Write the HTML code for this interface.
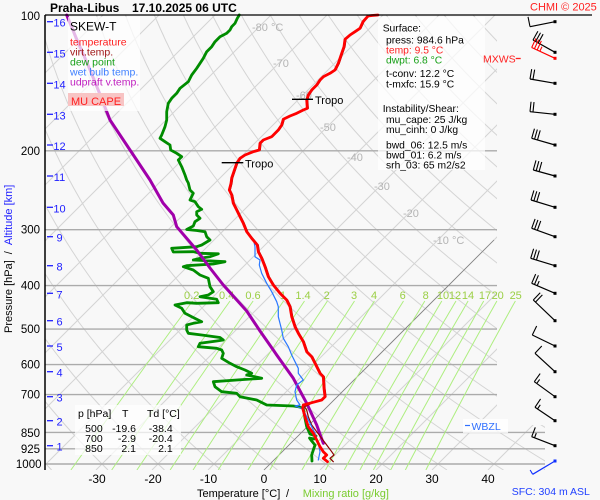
<!DOCTYPE html>
<html><head><meta charset="utf-8">
<style>
html,body{margin:0;padding:0;background:#f8f8f8;}
svg{display:block;font-family:"Liberation Sans",Arial,sans-serif;}
</style></head>
<body>
<svg id="s" width="600" height="500" viewBox="0 0 600 500" xmlns="http://www.w3.org/2000/svg">
<defs>
<clipPath id="cp"><polygon points="45,15 497,15 497,425 545,425 545,470 45,470"/></clipPath>
<clipPath id="cpm"><rect x="45" y="15" width="555" height="455"/></clipPath>
</defs>
<rect width="600" height="500" fill="#f8f8f8"/>
<g id="grid" clip-path="url(#cp)"></g>
<g stroke="#ababab" stroke-width="1.4">
<line x1="45" y1="150.8" x2="497" y2="150.8"/>
<line x1="45" y1="229.7" x2="497" y2="229.7"/>
<line x1="45" y1="285.6" x2="497" y2="285.6"/>
<line x1="45" y1="329.1" x2="497" y2="329.1"/>
<line x1="45" y1="364.6" x2="497" y2="364.6"/>
<line x1="45" y1="394.6" x2="497" y2="394.6"/>
<line x1="45" y1="432.4" x2="545" y2="432.4"/>
<line x1="45" y1="448.8" x2="545" y2="448.8"/>
<line x1="45" y1="464" x2="545" y2="464"/>
</g>
<line x1="264" y1="470" x2="494" y2="240" stroke="#808080" stroke-width="0.8"/>
<g id="mix" clip-path="url(#cpm)"></g>
<g font-size="11" fill="#9bcf45">
<text x="191.7" y="299" text-anchor="middle">0.2</text>
<text x="226.7" y="299" text-anchor="middle">0.4</text>
<text x="253" y="299" text-anchor="middle">0.6</text>
<text x="283" y="299" text-anchor="middle">1</text>
<text x="303" y="299" text-anchor="middle">1.4</text>
<text x="326.7" y="299" text-anchor="middle">2</text>
<text x="354" y="299" text-anchor="middle">3</text>
<text x="374" y="299" text-anchor="middle">4</text>
<text x="402.7" y="299" text-anchor="middle">6</text>
<text x="425.7" y="299" text-anchor="middle">8</text>
<text x="443" y="299" text-anchor="middle">10</text>
<text x="455" y="299" text-anchor="middle">12</text>
<text x="468" y="299" text-anchor="middle">14</text>
<text x="485" y="299" text-anchor="middle">17</text>
<text x="497.7" y="299" text-anchor="middle">20</text>
<text x="515.7" y="299" text-anchor="middle">25</text>
</g>
<g font-size="11" fill="#b4b4b4">
<text x="252" y="31">-80 °C</text>
<text x="273" y="67">-70</text>
<text x="296" y="99">-60</text>
<text x="320" y="131">-50</text>
<text x="347" y="161">-40</text>
<text x="374" y="190">-30</text>
<text x="403" y="217">-20</text>
<text x="433" y="244">-10 °C</text>
</g>
<g id="prof" fill="none" stroke-linejoin="round" stroke-linecap="round"></g>
<!-- boxes -->
<rect x="68" y="17" width="72" height="94" fill="#fff" opacity="0.72"/>
<rect x="378" y="17" width="107" height="153" fill="#fff" opacity="0.72"/>
<rect x="75" y="405" width="106" height="50" fill="#fff" opacity="0.72"/>
<rect x="463" y="419" width="45" height="14" fill="#fff" opacity="0.8"/>
<!-- legend -->
<text x="70" y="30.3" font-size="12" fill="#000">SKEW-T</text>
<g font-size="10.5">
<text x="70" y="45.7" fill="#ff2020">temperature</text>
<text x="70" y="55.7" fill="#a01818">virt.temp.</text>
<text x="70" y="65.4" fill="#18a018">dew point</text>
<text x="70" y="75.4" fill="#3f80ff">wet bulb temp.</text>
<text x="70" y="85.4" fill="#c020c0">udpraft v.temp.</text>
</g>
<rect x="68" y="93" width="56" height="13" fill="#f8c4c4"/>
<text x="96" y="105" font-size="11" fill="#ff2020" text-anchor="middle">MU CAPE</text>
<!-- surface box -->
<g font-size="10.3" fill="#000">
<text x="382.7" y="31.3">Surface:</text>
<text x="386" y="43.6">press: 984.6 hPa</text>
<text x="386" y="53.6" fill="#ff2020">temp: 9.5 °C</text>
<text x="386" y="63.6" fill="#18a018">dwpt: 6.8 °C</text>
<text x="386" y="77">t-conv: 12.2 °C</text>
<text x="386" y="87.6">t-mxfc: 15.9 °C</text>
<text x="382.7" y="112">Instability/Shear:</text>
<text x="386" y="123">mu_cape: 25 J/kg</text>
<text x="386" y="133">mu_cinh: 0 J/kg</text>
<text x="386" y="148.6">bwd_06: 12.5 m/s</text>
<text x="386" y="158.6">bwd_01: 6.2 m/s</text>
<text x="386" y="168.6">srh_03: 65 m2/s2</text>
</g>
<!-- table -->
<g font-size="10.5" fill="#000">
<text x="78" y="417">p [hPa]</text>
<text x="122" y="417">T</text>
<text x="147" y="417">Td [°C]</text>
<text x="102.7" y="432" text-anchor="end">500</text>
<text x="136" y="432" text-anchor="end">-19.6</text>
<text x="172.7" y="432" text-anchor="end">-38.4</text>
<text x="102.7" y="442" text-anchor="end">700</text>
<text x="136" y="442" text-anchor="end">-2.9</text>
<text x="172.7" y="442" text-anchor="end">-20.4</text>
<text x="102.7" y="452" text-anchor="end">850</text>
<text x="136" y="452" text-anchor="end">2.1</text>
<text x="172.7" y="452" text-anchor="end">2.1</text>
</g>
<!-- tropo -->
<g stroke="#000" stroke-width="1.3">
<line x1="292" y1="99.3" x2="313" y2="99.3"/>
<line x1="221.7" y1="162.7" x2="243.3" y2="162.7"/>
</g>
<text x="315" y="104" font-size="11" fill="#000">Tropo</text>
<text x="245" y="167.5" font-size="11" fill="#000">Tropo</text>
<!-- MXWS / WBZL -->
<text x="483" y="62.5" font-size="10.5" fill="#ff2020">MXWS</text>
<line x1="515.7" y1="58.5" x2="520.7" y2="58.5" stroke="#ff2020" stroke-width="1.3"/>
<line x1="465" y1="425.5" x2="470" y2="425.5" stroke="#3070ff" stroke-width="1.2"/>
<text x="471.5" y="430" font-size="10.5" fill="#3070ff">WBZL</text>
<!-- axes -->
<line x1="45" y1="15" x2="592" y2="15" stroke="#000" stroke-width="1.2"/>
<line x1="45" y1="15" x2="45" y2="470" stroke="#000" stroke-width="1.5"/>
<!-- title -->
<text x="50" y="12" font-size="12" font-weight="bold" fill="#000">Praha-Libus</text>
<text x="132" y="12" font-size="12" font-weight="bold" fill="#000">17.10.2025 06 UTC</text>
<text x="530" y="10.5" font-size="11" fill="#ff2020">CHMI © 2025</text>
<!-- pressure labels -->
<g font-size="11.5" fill="#000" text-anchor="end">
<text x="40" y="20">100</text>
<text x="40" y="154.8">200</text>
<text x="40" y="233.7">300</text>
<text x="40" y="289.6">400</text>
<text x="40" y="333.1">500</text>
<text x="40" y="368.6">600</text>
<text x="40" y="398.6">700</text>
<text x="40" y="436.8">850</text>
<text x="40" y="453">925</text>
<text x="41.5" y="468.2">1000</text>
</g>
<g id="alt" font-size="11" fill="#2020ff" text-anchor="middle"></g>
<!-- temperature labels -->
<g font-size="12" fill="#000" text-anchor="middle">
<text x="97" y="483">-30</text>
<text x="153" y="483">-20</text>
<text x="208.5" y="483">-10</text>
<text x="264" y="483">0</text>
<text x="320" y="483">10</text>
<text x="376" y="483">20</text>
<text x="432" y="483">30</text>
<text x="488" y="483">40</text>
</g>
<text x="197" y="497" font-size="11" fill="#000">Temperature [°C]</text>
<text x="286" y="497" font-size="11" fill="#000">/</text>
<text x="302.7" y="497" font-size="11" fill="#7acc30">Mixing ratio [g/kg]</text>
<text x="511.7" y="495" font-size="10.5" fill="#2040ff">SFC: 304 m ASL</text>
<text transform="translate(12,333) rotate(-90)" font-size="11" fill="#000"><tspan>Pressure [hPa]</tspan><tspan dx="6">/</tspan><tspan dx="6" fill="#2020ff">Altitude [km]</tspan></text>
<g id="barbs" stroke-linecap="butt"></g>
</svg>
<script>
(function(){
const NS='http://www.w3.org/2000/svg';
function Y(p){return 464-194.6*Math.log(1000/p);}
function P(y){return 1000*Math.exp((y-464)/194.6);}
function X(T,y){return 264+5.6*T+(470-y);}
function add(g,tag,a){const e=document.createElementNS(NS,tag);for(const k in a)e.setAttribute(k,a[k]);g.appendChild(e);return e;}
const grid=document.getElementById('grid');
let d='';
for(let T=-180;T<=60;T+=10){d+='M'+X(T,470).toFixed(1)+',470L'+X(T,15).toFixed(1)+',15';}
add(grid,'path',{d:d,stroke:'#d4d4d4','stroke-width':1,fill:'none'});
d='';
for(let th=223.15;th<=533.15;th+=10){
  let first=true;
  for(let y=470;y>=12;y-=3){const p=P(y);const T=th*Math.pow(p/1000,0.2857)-273.15;d+=(first?'M':'L')+X(T,y).toFixed(1)+','+y;first=false;}
}
add(grid,'path',{d:d,stroke:'#d4d4d4','stroke-width':1,fill:'none'});
const mix=document.getElementById('mix');
const ws=[0.2,0.4,0.6,1,1.4,2,3,4,6,8,10,12,14,17,20,25];
d='';
for(const w of ws){let first=true;
  const ys=[];for(let y=301;y<470;y+=4)ys.push(y);ys.push(470);
  for(const y of ys){const p=P(y);const e=w*p/(622+w);const l=Math.log(e/6.112);const T=243.5*l/(17.67-l);d+=(first?'M':'L')+X(T,y).toFixed(1)+','+y;first=false;}
}
add(mix,'path',{d:d,stroke:'#aeee80','stroke-width':1,fill:'none'});

const red=[[378,15],[372,15.5],[368,16],[363,21.7],[360,28.3],[355,31.7],[350,35],[345,39.3],[344,46.7],[341.7,53.3],[338.3,63.3],[335,70],[330,73.3],[323.3,76.7],[320,80],[316.7,85],[311.7,90],[308.3,95],[306.7,100],[307.3,108.3],[303.3,110],[296.7,113.3],[290,116],[283.3,119.3],[281.7,125],[278.3,130],[271.7,136.7],[263.3,140],[260,143.3],[259.3,150],[253.3,151.7],[245,155],[240,158.3],[236.7,163.3],[235,168.3],[233.3,173.3],[231.7,178],[231,183.3],[229.3,190],[231.7,195],[233.3,203.3],[236.7,210],[240,216.7],[243.3,223.3],[246.7,231.7],[251.7,238.3],[257.3,245],[258.3,251.7],[261.7,258.3],[265,266.7],[268.3,276.7],[273.3,285],[280,293.3],[286.7,300],[290,306.7],[291.7,316.7],[295,326.7],[298.3,333.3],[303.3,341.7],[306.7,351.7],[311.7,356.7],[315,363.3],[320,373.3],[323.3,376.7],[324,388.3],[325,396.7],[321.7,400],[311.7,402.7],[303.3,405],[302.7,408.3],[305,416.7],[308.3,426.7],[313.3,433.3],[316.7,440],[320,446.7],[323.3,451.7],[326.7,455],[323.3,458.3],[327.5,461.7]];
const green=[[239.3,15],[237.3,18.3],[235,23.3],[231.7,26.7],[230,30],[226.7,33.3],[220,36.7],[215,41.7],[211.7,46.7],[206.7,51.7],[203.3,58.3],[200,63.3],[196.7,68.3],[191.7,75],[188.3,81.7],[180,88.3],[176.7,93.3],[171.7,98.3],[168.3,103.3],[166.7,111.7],[166.7,120],[165,126.7],[161.7,135],[160,138.3],[165,141.7],[170,145],[170.7,150],[176.7,153.3],[181.7,156.7],[178.3,160],[181.7,166.7],[185,175],[186.7,180],[188.3,183],[190,190],[193.3,193.3],[190,200],[195,201.7],[198.3,206.7],[201.7,209.3],[196.7,211.7],[196.7,215],[200,218.3],[195,221.7],[193.3,226],[186.7,229.5],[196.7,230.5],[205,231.7],[206.7,236.7],[210,240],[201.7,245],[196.7,246.7],[171.7,248.3],[173.3,252],[193.3,251.7],[200,253.3],[218.3,253.8],[210,256.7],[200,258.3],[193.3,260],[225,261.7],[213.3,264],[186.7,265.7],[183.3,266.7],[193.3,270],[200,275],[208.3,278.3],[210,286.7],[213.3,291.7],[208.3,295],[200,296.7],[216.7,299.3],[218.3,302.7],[196.7,303.3],[186.7,302.7],[175,305],[181.7,308.3],[185,313.3],[191.7,316.7],[201.7,321.7],[193.3,323.3],[186.7,325],[186.7,330],[188.3,333.3],[201.7,335],[220,337.5],[223.3,340],[216.7,341],[200,343.3],[198.3,346.7],[216.7,348.3],[221.7,350],[223.3,353.3],[221.7,358.3],[230,363.3],[236.7,366.7],[245,370],[251.7,373.3],[246.7,375],[261.7,378.3],[236.7,380],[213.3,381.7],[215,386.7],[221.7,391.7],[236.7,393.3],[240,396.7],[256.7,400],[266.7,405],[293.3,406],[298.3,406.7],[303.3,408.3],[305,418.3],[306.7,426.7],[310,434],[316,436],[314,439],[309.5,438],[311.7,441],[315,445],[313.3,450],[311.7,455],[312,461]];
const blue=red.filter(p=>p[1]<212).map(p=>[p[0]-0.5,p[1]]).concat([[240,215],[243,223],[246,231.7],[250,236.7],[254,242],[255,246.7],[255,256.7],[260,260],[259.3,265],[261.7,273.3],[266.7,283.3],[271.7,291.7],[276.7,301.7],[278.3,306.7],[278.3,316.7],[281.7,330],[283.3,338.3],[288.3,346.7],[291.7,355],[295,361.7],[298.3,368.3],[298.3,373.3],[303.3,380],[296.7,385],[295,391.7],[296.7,400],[300,405],[295,406],[303,409],[305,413.3],[310,423.3],[315,433.3],[318.3,443.3],[320,451.7],[318.3,460]]);
const virt=red.filter(p=>p[1]<404).map(p=>[p[0]+1,p[1]]).concat([[304.5,406.7],[306.7,410],[308.3,416.7],[311.7,425],[316.7,431.7],[321.7,438.3],[326.7,445],[331.7,451.7],[334,455],[330,458.3],[333.3,461.7]]);
const purple=[[66.7,15],[77,40],[88,65],[99,92],[110,120],[130,150],[150,180],[163,203],[173.3,215],[176.7,226.7],[196.7,250],[210,268],[223.3,285],[246.7,311],[260,331],[273.3,350],[276.7,355],[293.3,378.3],[306.7,403.3],[316.7,425],[323.3,443.3]];
const prof=document.getElementById('prof');
function pl(pts,col,w){add(prof,'polyline',{points:pts.map(p=>p[0]+','+p[1]).join(' '),stroke:col,'stroke-width':w});}
pl(green,'#008c00',2.8);
pl(purple,'#a000aa',3);
pl(virt,'#8b0000',1.2);
pl(blue,'#2a78ff',1.2);
pl(red,'#ff0000',2.8);

const alt=document.getElementById('alt');
const ys=[21.7,52.3,83.3,114.3,145,176,207.3,236.7,265.7,293.3,320.7,346,371.7,396.7,420.7,445.7];
ys.forEach((y,i)=>{const km=16-i;
  add(alt,'line',{x1:47,y1:y,x2:53,y2:y,stroke:'#2020ff','stroke-width':1.3});
  const t=add(alt,'text',{x:59.5,y:(y+5).toFixed(1)});t.textContent=String(km);
});

const bg=document.getElementById('barbs');
function barb(x0,y0,x1,y1,full,half,col){
  add(bg,'line',{x1:x0,y1:y0,x2:x1,y2:y1,stroke:col,'stroke-width':1.2});
  add(bg,'rect',{x:x0-1.5,y:y0-1.5,width:3,height:3,fill:col});
  const L=Math.hypot(x0-x1,y0-y1);const ux=(x1-x0)/L,uy=(y1-y0)/L;const px=-uy,py=ux;
  let s=0;
  for(let i=0;i<full;i++){const bx=x1-ux*s,by=y1-uy*s;add(bg,'line',{x1:bx,y1:by,x2:bx+px*10,y2:by+py*10,stroke:col,'stroke-width':1.1});s+=3;}
  for(let i=0;i<half;i++){const bx=x1-ux*s,by=y1-uy*s;add(bg,'line',{x1:bx,y1:by,x2:bx+px*5,y2:by+py*5,stroke:col,'stroke-width':1.1});s+=3;}
}
const B=[[21.7,530,26.7,1,0],[52.3,533,40,3,0],[83.3,530,79,2,0],[114.3,530,111.7,2,0],[145,531.7,138.3,3,0],[176,533.3,170,3,0],[207.3,531,200,3,0],[236.7,531.7,228.3,3,0],[265.7,530.7,258.3,3,0],[293.3,531.7,283.3,2,1],[320.7,533.3,300,2,0],[346,532.3,335,1,0],[371.7,535,353.3,1,0],[396.7,534.3,381.7,1,1],[420.7,535,407.3,1,1],[445.7,531.7,436.7,1,1]];
B.forEach(b=>barb(555,b[0],b[1],b[2],b[3],b[4],'#000'));
barb(555,58.3,531.7,47.5,3,1,'#ff0000');
barb(555,461,532.7,474.3,0,1,'#1030ff');
})();
</script>
</body></html>
